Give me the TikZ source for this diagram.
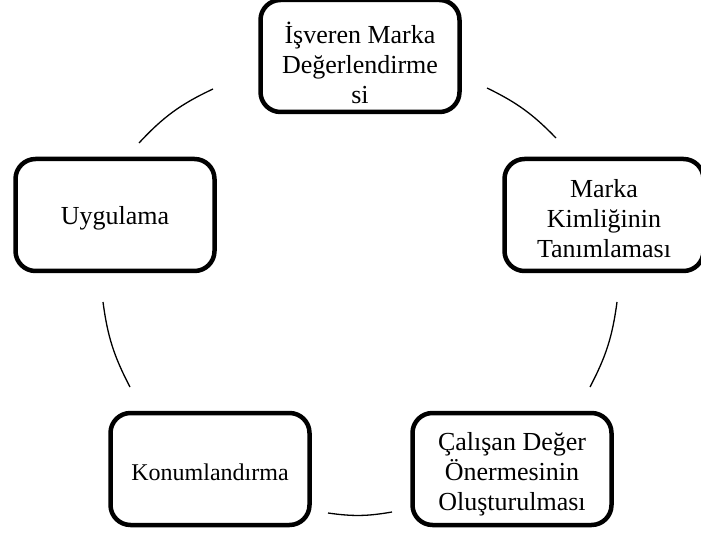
\documentclass[tikz,border=0pt]{standalone}
\usepackage{fontspec}
\setmainfont{Liberation Serif}
\usepackage{tikz}

% extra room above the first line, pushes the text a little down
\newcommand{\headroom}[1]{\rule{0pt}{#1}}

\tikzset{
  stage/.style={draw=black,line width=4.5pt,rounded corners=20pt,
    minimum width=199pt,minimum height=112pt,align=center,
    inner sep=2pt,font=\fontsize{26}{30}\selectfont},
  link/.style={line width=1.3pt,black}
}

\begin{document}
\begin{tikzpicture}[x=1pt,y=1pt]
\useasboundingbox (0,0) rectangle (701,536);

% Stages
\node[stage] (eval) at (360,480) {\headroom{36pt}İşveren Marka\\Değerlendirme\\si};
\node[stage] (ident) at (604,321) {\headroom{26pt}Marka\\Kimliğinin\\Tanımlaması};
\node[stage] (evp) at (512,67) {\headroom{29pt}Çalışan Değer\\Önermesinin\\Oluşturulması};
\node[stage,font=\fontsize{24}{28}\selectfont] (pos) at (210,67) {\headroom{24pt}Konumlandırma};
\node[stage] (impl) at (115,321) {\headroom{24pt}Uygulama};

% Arc ends
\coordinate (a1s) at (487,448);
\coordinate (a1e) at (556,398);
\coordinate (a2s) at (617,234);
\coordinate (a2e) at (590,149);
\coordinate (a3s) at (392,24);
\coordinate (a3e) at (328,23);
\coordinate (a4s) at (130,149);
\coordinate (a4e) at (103,234);
\coordinate (a5s) at (139,393);
\coordinate (a5e) at (213,447);

% Arcs
\draw[link] (a1s) to[bend left=10] (a1e);
\draw[link] (a2s) to[bend left=10] (a2e);
\draw[link] (a3s) to[bend left=9] (a3e);
\draw[link] (a4s) to[bend left=10] (a4e);
\draw[link] (a5s) to[bend left=11] (a5e);
\end{tikzpicture}
\end{document}
